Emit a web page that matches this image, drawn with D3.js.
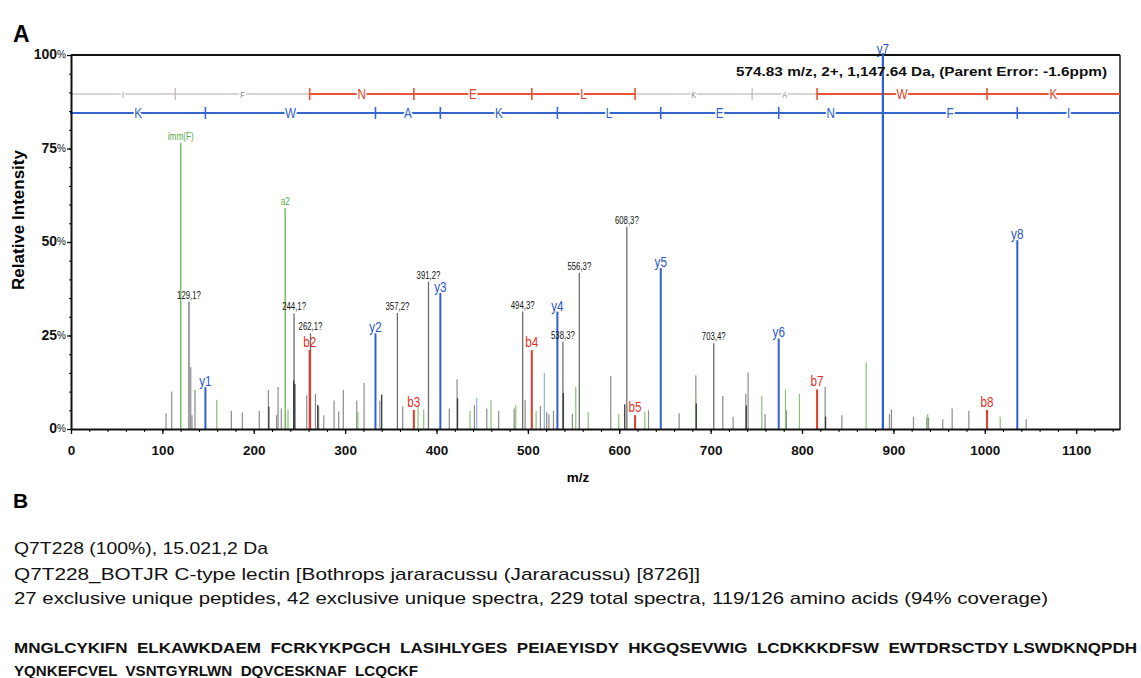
<!DOCTYPE html>
<html>
<head>
<meta charset="utf-8">
<script src="https://cdn.jsdelivr.net/npm/d3@7"></script>
<style>
  body { margin: 0; background: #fff; }
  svg { display: block; }
</style>
</head>
<body>
<svg id="chart" width="1141" height="678"></svg>
<script>
// ---- Spectrum data (m/z, relative intensity %) ----
const yIonLabels = ["y1", "y2", "y3", "y4", "y5", "y6", "y7", "y8"];
const yIonMz = [147.1, 333.2, 404.2, 532.3, 645.4, 774.5, 888.5, 1035.6];
const yIonInt = [11.2, 25.6, 36.4, 31.4, 43.0, 24.2, 100, 50.5];

const bIonLabels = ["b2", "b3", "b4", "b5", "b7", "b8"];
const bIonMz = [261.2, 375.2, 504.3, 617.3, 816.5, 1002.5];
const bIonInt = [21.1, 5.1, 21.1, 3.7, 10.6, 5.1];

const otherIonLabels = ["imm(F)", "a2"];
const otherIonMz = [120.1, 234.4];
const otherIonInt = [76.5, 59.0];

const unassignedLabels = ["129,1?", "244,1?", "262,1?", "357,2?", "391,2?", "494,3?", "538,3?", "556,3?", "608,3?", "703,4?"];
const unassignedMz = [129.1, 244.1, 262.1, 357.2, 391.2, 494.3, 538.3, 556.3, 608.3, 703.4];
const unassignedInt = [34.0, 30.9, 25.6, 31.0, 39.4, 31.4, 23.3, 41.8, 54.1, 22.9];

const grayPeakMz = [104, 110.2, 131, 132.4, 135.7, 175.5, 187.5, 206, 216, 225, 226.6, 230.2, 234.8,
  258, 267.5, 271, 276.6, 287.9, 293, 298, 312.7, 320.7, 338, 363, 414, 422.5, 441.5, 455, 468,
  485, 497, 513.7, 520.6, 523, 528, 548.7, 590.7, 632, 665.5, 683.8, 713.3, 724.6, 738.5, 741,
  759.6, 783, 825.3, 843.6, 895.7, 897.9, 922, 936.6, 938.5, 954, 964.3, 982.6, 1045.3];
const grayPeakInt = [4.2, 10.0, 16.5, 3.7, 10.4, 4.8, 4.4, 4.8, 10.4, 3.7, 11.2, 5.5, 4.4,
  9.0, 9.4, 6.0, 3.7, 7.6, 4.7, 10.4, 7.6, 12.3, 7.6, 6.0, 5.5, 13.3, 6.4, 5.5, 4.8,
  5.5, 7.8, 6.2, 4.5, 3.9, 4.9, 4.0, 14.2, 5.0, 4.2, 14.4, 8.8, 3.3, 9.4, 15.1,
  4.0, 5.0, 11.2, 3.7, 4.0, 5.3, 3.3, 3.1, 3.0, 2.6, 5.5, 4.9, 2.6];

const darkPeakMz = [216.5, 243.7, 245, 270, 340, 423, 538.8, 606, 684.3, 739, 825.8];
const darkPeakInt = [6.0, 13.0, 12.0, 6.4, 9.2, 8.2, 9.6, 6.6, 6.8, 6.3, 3.3];

const greenPeakMz = [159.5, 237.5, 314, 379.8, 386, 436.7, 459.7, 486.7, 509, 552.4, 566, 599.4,
  628, 683.5, 756, 781.9, 797.2, 870.2, 937.5, 1016.9];
const greenPeakInt = [7.8, 5.1, 4.5, 6.4, 5.2, 4.8, 7.6, 6.4, 4.8, 11.2, 4.5, 4.0,
  4.7, 8.9, 8.8, 10.6, 9.4, 17.8, 4.0, 3.3];

const lightBluePeakMz = [444, 518];
const lightBluePeakInt = [8.3, 15.0];

// ---- Fragment ladders ----
const bLadderMz = [0, 114.1, 261.2, 375.2, 504.3, 617.3, 745.4, 816.5, 1002.5, 1148];
const bResidues = ["I", "F", "N", "E", "L", "K", "A", "W", "K"];
const bObserved = [false, false, true, true, true, false, false, true, true];
const yLadderMz = [0, 147.1, 333.2, 404.2, 532.3, 645.4, 774.5, 888.5, 1035.6, 1148];
const yResidues = ["K", "W", "A", "K", "L", "E", "N", "F", "I"];

// ---- Axis ticks ----
const xTickValues = [0, 100, 200, 300, 400, 500, 600, 700, 800, 900, 1000, 1100];
const yTickValues = [0, 25, 50, 75, 100];

const precursorText = "574.83 m/z, 2+, 1,147.64 Da, (Parent Error: -1.6ppm)";

// ---- Panel B text ----
const proteinLines = [
  "Q7T228 (100%), 15.021,2 Da",
  "Q7T228_BOTJR C-type lectin [Bothrops jararacussu (Jararacussu) [8726]]",
  "27 exclusive unique peptides, 42 exclusive unique spectra, 229 total spectra, 119/126 amino acids (94% coverage)"
];
const sequenceLines = [
  "MNGLCYKIFN  ELKAWKDAEM  FCRKYKPGCH  LASIHLYGES  PEIAEYISDY  HKGQSEVWIG  LCDKKKDFSW  EWTDRSCTDY LSWDKNQPDH",
  "YQNKEFCVEL  VSNTGYRLWN  DQVCESKNAF  LCQCKF"
];

// ---- Drawing ----
const svg = d3.select("#chart");
svg.append("rect").attr("width", 1141).attr("height", 678).attr("fill", "#fff");

const x = d3.scaleLinear().domain([0, 1148]).range([71, 1120]);
const y = d3.scaleLinear().domain([0, 100]).range([429, 55]);

const sans = "'Liberation Sans', Arial, sans-serif";
const SQUEEZE = 0.78; // horizontal condensing for the narrow annotation type

// condensed text placed at (px, py)
function narrowText(parent, px, py, str, size, color, anchor) {
  return parent.append("text")
    .attr("transform", `translate(${px},${py}) scale(${SQUEEZE},1)`)
    .attr("text-anchor", anchor || "middle")
    .attr("font-family", sans).attr("font-size", size).attr("fill", color)
    .text(str);
}

// panel letters
svg.append("text").attr("x", 13).attr("y", 42).text("A")
  .attr("font-family", sans).attr("font-weight", "bold").attr("font-size", 23);
svg.append("text").attr("x", 13).attr("y", 508).text("B")
  .attr("font-family", sans).attr("font-weight", "bold").attr("font-size", 21);

// peaks
const peaks = svg.append("g");
function drawPeaks(mz, inten, color, width) {
  peaks.selectAll(null).data(d3.zip(mz, inten)).join("line")
    .attr("x1", d => x(d[0])).attr("x2", d => x(d[0]))
    .attr("y1", y(0)).attr("y2", d => y(d[1]))
    .attr("stroke", color).attr("stroke-width", width);
}
drawPeaks(grayPeakMz, grayPeakInt, "#8c8c8c", 1.2);
drawPeaks(greenPeakMz, greenPeakInt, "#86c276", 1.2);
drawPeaks(lightBluePeakMz, lightBluePeakInt, "#8fb0ea", 1.2);
drawPeaks(unassignedMz, unassignedInt, "#6e6e6e", 1.3);
drawPeaks(darkPeakMz, darkPeakInt, "#3a3a3a", 1.3);
drawPeaks(otherIonMz, otherIonInt, "#7cbc66", 1.5);
drawPeaks(bIonMz, bIonInt, "#e43a2a", 2);
drawPeaks(yIonMz, yIonInt, "#2f5fd2", 2);

// peak labels
const labels = svg.append("g");
function drawLabels(names, mz, inten, color, size, gap) {
  names.forEach((n, i) => narrowText(labels, x(mz[i]), y(inten[i]) - gap, n, size, color));
}
drawLabels(unassignedLabels, unassignedMz, unassignedInt, "#111", 10, 3);
drawLabels(otherIonLabels, otherIonMz, otherIonInt, "#5aa844", 10.5, 3);
drawLabels(bIonLabels, bIonMz, bIonInt, "#e0301f", 15, 3);
drawLabels(yIonLabels, yIonMz, yIonInt, "#2a56c8", 15, 1);

// frame
svg.append("line").attr("x1", 71).attr("x2", 1120).attr("y1", y(100)).attr("y2", y(100))
  .attr("stroke", "#111").attr("stroke-width", 2);
svg.append("line").attr("x1", 1120).attr("x2", 1120).attr("y1", y(100)).attr("y2", y(0))
  .attr("stroke", "#222").attr("stroke-width", 1.5);

// fragment ladders
const ladder = svg.append("g");
const bY = 94, yY = 113;
bResidues.forEach((r, i) => {
  ladder.append("line")
    .attr("x1", x(bLadderMz[i])).attr("x2", x(bLadderMz[i + 1]))
    .attr("y1", bY).attr("y2", bY)
    .attr("stroke", bObserved[i] ? "#ea5333" : "#b4a9a9")
    .attr("stroke-width", bObserved[i] ? 2 : 1);
});
bLadderMz.slice(1, -1).forEach((m, j) => {
  const red = bObserved[j] || bObserved[j + 1];
  ladder.append("line").attr("x1", x(m)).attr("x2", x(m))
    .attr("y1", bY - 6).attr("y2", bY + 6)
    .attr("stroke", red ? "#ea5333" : "#b4a9a9").attr("stroke-width", red ? 1.6 : 1);
});
bResidues.forEach((r, i) => {
  const cx = (x(bLadderMz[i]) + x(bLadderMz[i + 1])) / 2;
  narrowText(ladder, cx, bY + (bObserved[i] ? 5 : 3.5), r, bObserved[i] ? 15 : 9.5,
    bObserved[i] ? "#e0402a" : "#8a8080")
    .attr("stroke", "#fff").attr("stroke-width", 4).attr("paint-order", "stroke");
});
ladder.append("line").attr("x1", 70).attr("x2", 1120).attr("y1", yY).attr("y2", yY)
  .attr("stroke", "#3566cc").attr("stroke-width", 2);
yLadderMz.slice(1, -1).forEach(m => {
  ladder.append("line").attr("x1", x(m)).attr("x2", x(m))
    .attr("y1", yY - 6).attr("y2", yY + 6)
    .attr("stroke", "#3566cc").attr("stroke-width", 1.6);
});
yResidues.forEach((r, i) => {
  const cx = (x(yLadderMz[i]) + x(yLadderMz[i + 1])) / 2;
  narrowText(ladder, cx, yY + 5, r, 15, "#2f5fc8")
    .attr("stroke", "#fff").attr("stroke-width", 4).attr("paint-order", "stroke");
});

// y7 line is drawn over the ladders
svg.append("line").attr("x1", x(yIonMz[6])).attr("x2", x(yIonMz[6]))
  .attr("y1", y(0)).attr("y2", y(100) - 2)
  .attr("stroke", "#2f5fd2").attr("stroke-width", 2);

// precursor info
svg.append("text").attr("x", 1107).attr("y", 76).attr("text-anchor", "end")
  .attr("font-family", sans).attr("font-weight", "bold").attr("font-size", 12.5)
  .attr("fill", "#111")
  .attr("textLength", 371).attr("lengthAdjust", "spacingAndGlyphs")
  .text(precursorText);

// axes
const xAxis = svg.append("g").attr("transform", `translate(0,${y(0)})`)
  .call(d3.axisBottom(x).tickValues(xTickValues).tickSize(5).tickSizeOuter(0).tickFormat(d3.format("d")));
svg.append("g").attr("transform", `translate(0,${y(0)})`)
  .call(d3.axisBottom(x).tickValues(d3.range(0, 1148, 20)).tickSize(3).tickSizeOuter(0).tickFormat(""))
  .call(g => g.select(".domain").remove());
xAxis.select(".domain").attr("stroke", "#111").attr("stroke-width", 2);
xAxis.selectAll(".tick line").attr("stroke", "#111").attr("stroke-width", 1.3);
xAxis.selectAll(".tick text").attr("font-family", sans).attr("font-weight", "bold")
  .attr("font-size", 13.5).attr("fill", "#111").attr("y", 12).attr("dy", "1.05em");

const yAxis = svg.append("g").attr("transform", "translate(71,0)")
  .call(d3.axisLeft(y).tickValues(yTickValues).tickSize(4).tickSizeOuter(0).tickFormat(""));
svg.append("g").attr("transform", "translate(71,0)")
  .call(d3.axisLeft(y).tickValues(d3.range(0, 101, 5)).tickSize(2).tickSizeOuter(0).tickFormat(""))
  .call(g => g.select(".domain").remove());
yAxis.select(".domain").attr("stroke", "#111").attr("stroke-width", 2);
yAxis.selectAll(".tick line").attr("stroke", "#111").attr("stroke-width", 1.3);
yAxis.selectAll(".tick").append("text")
  .attr("x", -5).attr("dy", "0.35em").attr("text-anchor", "end")
  .attr("font-family", sans).attr("fill", "#111")
  .each(function (d) {
    const t = d3.select(this);
    t.append("tspan").attr("font-weight", "bold").attr("font-size", 14).text(d);
    t.append("tspan").attr("font-size", 10).attr("dy", "-0.1em").text("%");
  });

svg.append("text").attr("x", 578).attr("y", 482).attr("text-anchor", "middle")
  .attr("font-family", sans).attr("font-weight", "bold").attr("font-size", 13.5).text("m/z");
svg.append("text").attr("transform", "translate(24,220) rotate(-90)").attr("text-anchor", "middle")
  .attr("font-family", sans).attr("font-weight", "bold").attr("font-size", 17).text("Relative Intensity");

// panel B text
const infoBase = [554, 580, 604];
const infoLen = [254, 686, 1034];
proteinLines.forEach((s, i) => {
  svg.append("text").attr("x", 14).attr("y", infoBase[i])
    .attr("font-family", sans).attr("font-size", 17).attr("fill", "#111")
    .attr("textLength", infoLen[i]).attr("lengthAdjust", "spacingAndGlyphs")
    .text(s);
});
const seqBase = [653, 676];
const seqLen = [1123, 404];
sequenceLines.forEach((s, i) => {
  svg.append("text").attr("x", 14).attr("y", seqBase[i])
    .attr("font-family", sans).attr("font-weight", "bold").attr("font-size", 15).attr("fill", "#111")
    .attr("xml:space", "preserve").style("white-space", "pre")
    .attr("textLength", seqLen[i]).attr("lengthAdjust", "spacingAndGlyphs")
    .text(s);
});
</script>
</body>
</html>
